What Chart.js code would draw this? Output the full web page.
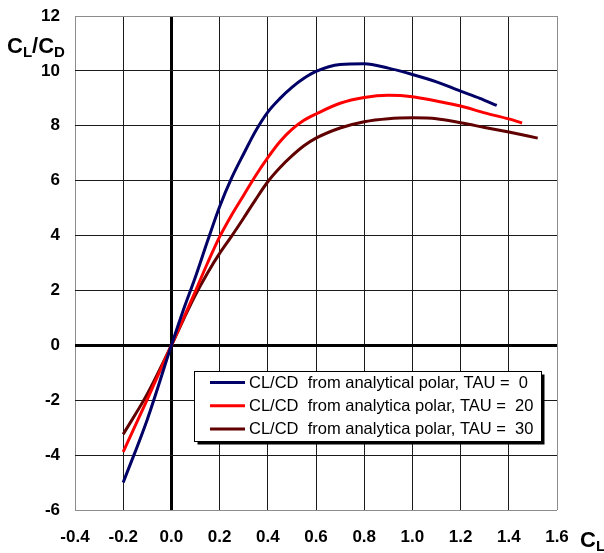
<!DOCTYPE html>
<html><head><meta charset="utf-8">
<script src="https://cdn.jsdelivr.net/npm/chart.js@4"></script>
<style>html,body{margin:0;padding:0;background:#fff}canvas{display:block}</style>
</head><body>
<canvas id="c" width="604" height="553"></canvas>
<script>
const seriesLabels = [
  'CL/CD  from analytical polar, TAU =  0',
  'CL/CD  from analytica polar, TAU =  20',
  'CL/CD  from analytica polar, TAU =  30'
];
const seriesColors = ['#000066', '#ff0000', '#600000'];

const xTau0 = [-0.2, -0.1, 0, 0.05, 0.1, 0.15, 0.2, 0.25, 0.3, 0.35, 0.4, 0.45, 0.5, 0.55, 0.6, 0.7, 0.8, 0.9, 1.0, 1.1, 1.2, 1.28, 1.35];
const yTau0 = [-5.0, -2.7, 0, 1.3, 2.5, 3.8, 5.05, 6.1, 6.98, 7.82, 8.5, 8.99, 9.4, 9.73, 9.98, 10.23, 10.26, 10.1, 9.87, 9.6, 9.26, 9.0, 8.74];

const xTau20 = [-0.2, -0.1, 0, 0.05, 0.1, 0.15, 0.2, 0.25, 0.3, 0.35, 0.4, 0.45, 0.5, 0.55, 0.6, 0.7, 0.8, 0.9, 1.0, 1.1, 1.2, 1.3, 1.4, 1.455];
const yTau20 = [-3.88, -1.97, 0, 0.98, 1.98, 3.0, 3.95, 4.75, 5.47, 6.19, 6.84, 7.42, 7.87, 8.2, 8.43, 8.82, 9.03, 9.11, 9.06, 8.9, 8.72, 8.47, 8.25, 8.1];

const xTau30 = [-0.2, -0.1, 0, 0.05, 0.1, 0.15, 0.2, 0.25, 0.3, 0.35, 0.4, 0.45, 0.5, 0.55, 0.6, 0.7, 0.8, 0.9, 1.0, 1.1, 1.2, 1.3, 1.4, 1.52];
const yTau30 = [-3.24, -1.77, 0, 0.94, 1.84, 2.64, 3.35, 3.98, 4.64, 5.32, 5.96, 6.47, 6.9, 7.27, 7.55, 7.92, 8.15, 8.26, 8.29, 8.26, 8.11, 7.94, 7.77, 7.55];

const xRange = [-0.4, 1.6, 0.2];
const yRange = [-6, 12, 2];

const pairs = (xs, ys) => xs.map((x, i) => ({x: x, y: ys[i]}));
const seriesX = [xTau0, xTau20, xTau30];
const seriesY = [yTau0, yTau20, yTau30];

const FONT = '"Liberation Sans", Arial, sans-serif';

function gridColor(ctx, scaleMin, scaleMax) {
  const v = ctx.tick ? ctx.tick.value : null;
  if (v === null) return '#000';
  if (Math.abs(v) < 1e-9) return '#000';
  if (Math.abs(v - scaleMin) < 1e-9 || Math.abs(v - scaleMax) < 1e-9) return '#8c8c8c';
  return '#1a1a1a';
}
function gridWidth(ctx) {
  const v = ctx.tick ? ctx.tick.value : null;
  return (v !== null && Math.abs(v) < 1e-9) ? 3 : 1;
}

const overlayPlugin = {
  id: 'overlay',
  afterDraw(chart) {
    const ctx = chart.ctx;
    ctx.save();
    function sub(x, baseline, main, subTxt) {
      ctx.font = 'bold 22px ' + FONT;
      ctx.fillText(main, x, baseline);
      x += ctx.measureText(main).width;
      ctx.font = 'bold 15px ' + FONT;
      ctx.fillText(subTxt, x, baseline + 4);
      return x + ctx.measureText(subTxt).width;
    }
    ctx.fillStyle = '#000';
    ctx.textBaseline = 'alphabetic';
    ctx.textAlign = 'left';
    let x = sub(7, 53, 'C', 'L');
    ctx.font = 'bold 22px ' + FONT;
    ctx.fillText('/', x, 53);
    x += ctx.measureText('/').width;
    sub(x, 53, 'C', 'D');
    sub(580, 546.5, 'C', 'L');

    const bx = 194.5, by = 371.5, bw = 347, bh = 70;
    ctx.fillStyle = '#000';
    ctx.fillRect(bx + 3, by + 3, bw, bh);
    ctx.fillStyle = '#fff';
    ctx.fillRect(bx, by, bw, bh);
    ctx.strokeStyle = '#000';
    ctx.lineWidth = 1;
    ctx.strokeRect(bx, by, bw, bh);
    chart.data.datasets.forEach((ds, i) => {
      const y = 382.5 + i * 23.3;
      ctx.strokeStyle = ds.borderColor;
      ctx.lineWidth = 3;
      ctx.beginPath();
      ctx.moveTo(210, y);
      ctx.lineTo(245, y);
      ctx.stroke();
      ctx.fillStyle = '#000';
      ctx.font = '16.5px ' + FONT;
      ctx.textBaseline = 'middle';
      ctx.fillText(ds.label, 249, y + 0.5);
    });
    ctx.restore();
  }
};

new Chart(document.getElementById('c'), {
  type: 'scatter',
  data: {
    datasets: seriesLabels.map((lab, i) => ({
      label: lab,
      data: pairs(seriesX[i], seriesY[i]),
      showLine: true,
      borderColor: seriesColors[i],
      backgroundColor: seriesColors[i],
      borderWidth: 3,
      pointRadius: 0,
      cubicInterpolationMode: 'monotone',
      fill: false
    }))
  },
  options: {
    responsive: false,
    animation: false,
    devicePixelRatio: 1,
    layout: {padding: {left: 0, right: 47, top: 16, bottom: 0}},
    plugins: {legend: {display: false}, tooltip: {enabled: false}},
    scales: {
      x: {
        type: 'linear', min: xRange[0], max: xRange[1],
        afterFit: s => { s.height = 43; s.paddingLeft = 0; s.paddingRight = 0; },
        ticks: {
          stepSize: xRange[2], color: '#000', padding: 17,
          font: {family: FONT, size: 17, weight: 'bold'},
          callback: v => Number(v).toFixed(1)
        },
        border: {display: false},
        grid: {
          drawTicks: false,
          color: c => gridColor(c, xRange[0], xRange[1]),
          lineWidth: gridWidth
        }
      },
      y: {
        type: 'linear', min: yRange[0], max: yRange[1],
        afterFit: s => { s.width = 75; s.paddingTop = 0; s.paddingBottom = 0; },
        ticks: {
          stepSize: yRange[2], color: '#000', padding: 15,
          font: {family: FONT, size: 17, weight: 'bold'},
          callback: v => String(Math.round(v))
        },
        border: {display: false},
        grid: {
          drawTicks: false,
          color: c => gridColor(c, yRange[0], yRange[1]),
          lineWidth: gridWidth
        }
      }
    }
  },
  plugins: [overlayPlugin]
});
</script>
</body></html>
